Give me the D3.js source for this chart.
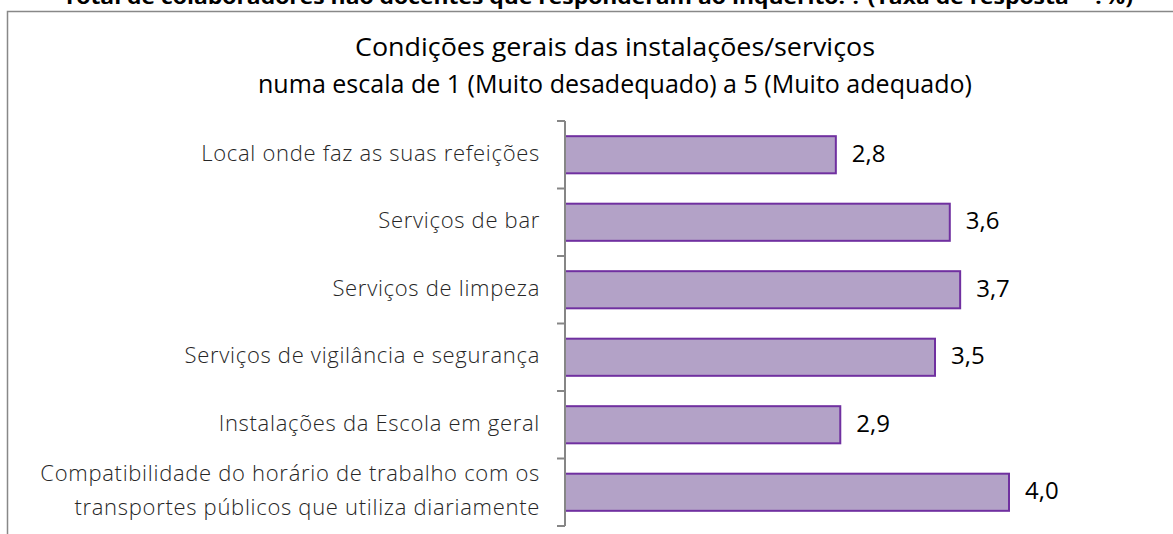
<!doctype html>
<html>
  <head>
    <script src="https://d3js.org/d3.v7.min.js"></script>
    <style>
      body { margin: 0; background: #fff; }
      text { font-family: "Open Sans", "Noto Sans", sans-serif; }
    </style>
  </head>
  <body>
    <div id="chart"></div>
    <script>
      // chart data
      var categories = [
        "Local onde faz as suas refeições",
        "Serviços de bar",
        "Serviços de limpeza",
        "Serviços de vigilância e segurança",
        "Instalações da Escola em geral",
        "Compatibilidade do horário de trabalho com os|transportes públicos que utiliza diariamente"
      ];
      var values = [2.83, 3.6, 3.67, 3.5, 2.86, 4.0];
      var titleLines = [
        "Condições gerais das instalações/serviços",
        "numa escala de 1 (Muito desadequado) a 5 (Muito adequado)"
      ];
      var topNote = "Total de colaboradores não docentes que responderam ao inquérito: ? (Taxa de resposta = ?%)";

      var width = 1173, height = 534;
      var svg = d3.select("#chart").append("svg")
        .attr("width", width).attr("height", height);

      // header text above the chart box (cut by the top edge, as in the source)
      svg.append("text")
        .attr("x", 598).attr("y", 4)
        .attr("text-anchor", "middle")
        .attr("font-size", 19).attr("font-weight", 700)
        .attr("textLength", 1070).attr("lengthAdjust", "spacingAndGlyphs")
        .text(topNote);

      // chart box
      svg.append("rect")
        .attr("x", 7.5).attr("y", 11.5)
        .attr("width", 1200).attr("height", 600)
        .attr("fill", "#fff").attr("stroke", "#888").attr("stroke-width", 1.5);

      // title
      var titleW = [520, 714];
      svg.selectAll(".title").data(titleLines).enter()
        .append("text")
        .attr("class", "title")
        .attr("x", 615)
        .attr("y", function(d, i) { return 56 + i * 37; })
        .attr("text-anchor", "middle")
        .attr("font-size", 25)
        .attr("textLength", function(d, i) { return titleW[i]; })
        .attr("lengthAdjust", "spacingAndGlyphs")
        .attr("fill", "#000")
        .text(function(d) { return d; });

      // scales
      var x = d3.scaleLinear().domain([1, 5]).range([565, 1157]);
      var y = d3.scaleBand().domain(categories).range([121, 526]).paddingInner(0.45).paddingOuter(0.225);

      // bars
      svg.selectAll(".bar").data(values).enter()
        .append("rect")
        .attr("class", "bar")
        .attr("x", x(1))
        .attr("y", function(d, i) { return y(categories[i]); })
        .attr("width", function(d) { return x(d) - x(1); })
        .attr("height", y.bandwidth())
        .attr("fill", "#b3a2c7")
        .attr("stroke", "#7030a0")
        .attr("stroke-width", 2);

      // value labels
      var fmt = function(v) { return d3.format(".1f")(v).replace(".", ","); };
      svg.selectAll(".val").data(values).enter()
        .append("text")
        .attr("class", "val")
        .attr("x", function(d) { return x(d) + 16; })
        .attr("y", function(d, i) { return y(categories[i]) + y.bandwidth() / 2 + 7; })
        .attr("font-size", 24)
        .attr("fill", "#000")
        .text(fmt);

      // category axis: line + ticks between categories
      var axisX = 565;
      svg.append("line")
        .attr("x1", axisX).attr("x2", axisX)
        .attr("y1", 121).attr("y2", 526)
        .attr("stroke", "#868686").attr("stroke-width", 2);
      var bounds = d3.range(categories.length + 1).map(function(i) { return 121 + i * (405 / categories.length); });
      svg.selectAll(".tick").data(bounds).enter()
        .append("line")
        .attr("x1", axisX - 8).attr("x2", axisX)
        .attr("y1", function(d) { return d; }).attr("y2", function(d) { return d; })
        .attr("stroke", "#868686").attr("stroke-width", 2);

      // category labels (right aligned, two lines where needed)
      categories.forEach(function(c, i) {
        var lines = c.split("|");
        var cy = 121 + (i + 0.5) * (405 / categories.length);
        var t = svg.append("text")
          .attr("text-anchor", "end")
          .attr("font-size", 22)
          .attr("font-weight", 300)
          .attr("letter-spacing", "0.7px")
          .attr("fill", "#262626");
        lines.forEach(function(l, j) {
          t.append("tspan")
            .attr("x", 540)
            .attr("y", cy + 6 + (j - (lines.length - 1) / 2) * 34)
            .text(l);
        });
      });
    </script>
  </body>
</html>
